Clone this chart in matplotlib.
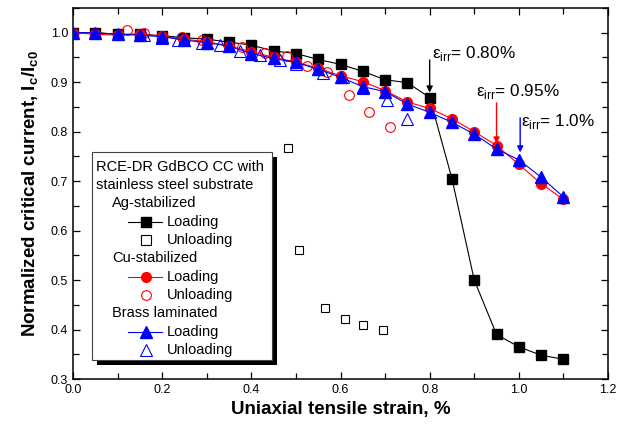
import matplotlib
matplotlib.use("Agg")
import matplotlib.pyplot as plt
from matplotlib.lines import Line2D
from matplotlib.patches import Rectangle
from matplotlib.ticker import MultipleLocator

plt.rcParams['font.family'] = ['Liberation Sans', 'DejaVu Sans']
plt.rcParams['mathtext.fontset'] = 'custom'
plt.rcParams['mathtext.rm'] = 'Liberation Sans'
plt.rcParams['mathtext.bf'] = 'Liberation Sans:bold'

# loading curves (strain in %)
strain_load = [0.00, 0.05, 0.10, 0.15, 0.20, 0.25, 0.30, 0.35, 0.40, 0.45, 0.50, 0.55,
               0.60, 0.65, 0.70, 0.75, 0.80, 0.85, 0.90, 0.95, 1.00, 1.05, 1.10]
ag_load = [1.000, 1.000, 0.997, 0.997, 0.994, 0.990, 0.987, 0.981, 0.975, 0.963, 0.958, 0.946,
           0.936, 0.922, 0.905, 0.899, 0.869, 0.705, 0.500, 0.390, 0.365, 0.348, 0.340]
cu_load = [1.000, 0.997, 0.995, 0.997, 0.993, 0.987, 0.982, 0.973, 0.962, 0.950, 0.941, 0.928,
           0.913, 0.901, 0.883, 0.860, 0.847, 0.826, 0.800, 0.772, 0.734, 0.695, 0.663]
brass_load = [1.000, 1.000, 0.997, 0.995, 0.992, 0.985, 0.980, 0.973, 0.958, 0.948, 0.940, 0.926,
              0.910, 0.891, 0.881, 0.856, 0.839, 0.819, 0.795, 0.765, 0.743, 0.708, 0.668]

# unloading points
ag_unl_x = [0.482, 0.507, 0.565, 0.610, 0.651, 0.696]
ag_unl_y = [0.767, 0.561, 0.443, 0.421, 0.409, 0.399]
cu_unl_x = [0.12, 0.16, 0.245, 0.29, 0.38, 0.43, 0.48, 0.525, 0.57, 0.62, 0.665, 0.71]
cu_unl_y = [1.005, 0.999, 0.992, 0.985, 0.971, 0.960, 0.952, 0.933, 0.920, 0.875, 0.839, 0.809]
br_unl_x = [0.16, 0.20, 0.235, 0.29, 0.33, 0.375, 0.42, 0.465, 0.50, 0.56, 0.605, 0.65, 0.705, 0.75]
br_unl_y = [0.995, 0.989, 0.985, 0.980, 0.975, 0.963, 0.955, 0.945, 0.936, 0.918, 0.910, 0.889, 0.864, 0.826]

# irreversible strain markers
irr_labels = ['0.80%', '0.95%', '1.0%']
irr_colors = ['black', 'red', 'blue']
irr_x = [0.80, 0.95, 1.003]
irr_from = [0.945, 0.858, 0.828]
irr_to = [0.879, 0.776, 0.758]
irr_text_x = [0.805, 0.904, 1.005]
irr_text_y = [0.949, 0.873, 0.812]

fig = plt.figure(figsize=(6.3, 4.28), dpi=100)
ax = fig.add_axes([73 / 630, 49 / 428, 535 / 630, 371 / 428])

ax.plot(strain_load, ag_load, '-s', color='black', mfc='black', ms=6.5, lw=0.8, zorder=3)
ax.plot(strain_load, cu_load, '-o', color='red', mfc='red', ms=7, lw=0.8, zorder=4)
ax.plot(strain_load, brass_load, '-^', color='blue', mfc='blue', ms=8, lw=0.8, zorder=5)
ax.plot(ag_unl_x, ag_unl_y, 's', mfc='white', mec='black', ms=6, mew=0.8, zorder=3)
ax.plot(cu_unl_x, cu_unl_y, 'o', mfc='none', mec='red', ms=7, mew=0.8, zorder=3)
ax.plot(br_unl_x, br_unl_y, '^', mfc='none', mec='blue', ms=8, mew=0.8, zorder=3)

for lab, c, x, y0, y1, tx, ty in zip(irr_labels, irr_colors, irr_x, irr_from, irr_to,
                                     irr_text_x, irr_text_y):
    ax.annotate('', xy=(x, y1), xytext=(x, y0),
                arrowprops=dict(arrowstyle='-|>', color=c, lw=1.0, mutation_scale=9,
                                shrinkA=0, shrinkB=0), zorder=6)
    ax.text(tx, ty, 'ε$_\\mathregular{irr}$= ' + lab, fontsize=12.3, va='baseline', ha='left')

ax.set_xlim(0, 1.2)
ax.set_ylim(0.3, 1.05)
ax.xaxis.set_major_locator(MultipleLocator(0.2))
ax.xaxis.set_minor_locator(MultipleLocator(0.1))
ax.yaxis.set_major_locator(MultipleLocator(0.1))
ax.yaxis.set_minor_locator(MultipleLocator(0.05))
ax.tick_params(which='both', direction='in', top=True, right=True, width=0.9, labelsize=9)
ax.tick_params(which='major', length=5)
ax.tick_params(which='minor', length=4)
for s in ax.spines.values():
    s.set_linewidth(1.1)

ax.set_xlabel('Uniaxial tensile strain, %', fontsize=13.5, fontweight='bold', labelpad=4)
ax.set_ylabel('Normalized critical current, I$_\\mathbf{c}$/I$_\\mathbf{c0}$',
              fontsize=13.5, fontweight='bold', labelpad=7)

# hand-built legend box with shadow
def fx(px):
    return px / 630

def fy(py):
    return 1 - py / 428

fig.patches.append(Rectangle((fx(97), fy(365)), fx(272) - fx(92), fy(152) - fy(360),
                             transform=fig.transFigure, facecolor='black', edgecolor='none',
                             zorder=7))
fig.patches.append(Rectangle((fx(92), fy(360)), fx(272) - fx(92), fy(152) - fy(360),
                             transform=fig.transFigure, facecolor='white', edgecolor='#444444',
                             lw=0.8, zorder=8))

leg_fs = 10.5
fig.text(fx(96), fy(167), 'RCE-DR GdBCO CC with', fontsize=leg_fs, va='center', zorder=9)
fig.text(fx(96), fy(185), 'stainless steel substrate', fontsize=leg_fs, va='center', zorder=9)

groups = [('Ag-stabilized', 'black', 's', 6.5), ('Cu-stabilized', 'red', 'o', 7),
          ('Brass laminated', 'blue', '^', 8)]
row = 203
for name, c, m, ms in groups:
    fig.text(fx(112), fy(row), name, fontsize=leg_fs, va='center', zorder=9)
    yl = fy(row + 19)
    fig.add_artist(Line2D([fx(128), fx(162)], [yl, yl], color=c, lw=0.8, zorder=9))
    fig.add_artist(Line2D([fx(146)], [yl], marker=m, color=c, mfc=c, ms=ms, zorder=9))
    fig.text(fx(167), yl, 'Loading', fontsize=leg_fs, va='center', zorder=9)
    yu = fy(row + 37)
    fig.add_artist(Line2D([fx(146)], [yu], marker=m, ls='none', mec=c, mfc='white',
                          ms=ms, mew=0.8, zorder=9))
    fig.text(fx(167), yu, 'Unloading', fontsize=leg_fs, va='center', zorder=9)
    row += 55

fig.savefig('out.png', dpi=100)
